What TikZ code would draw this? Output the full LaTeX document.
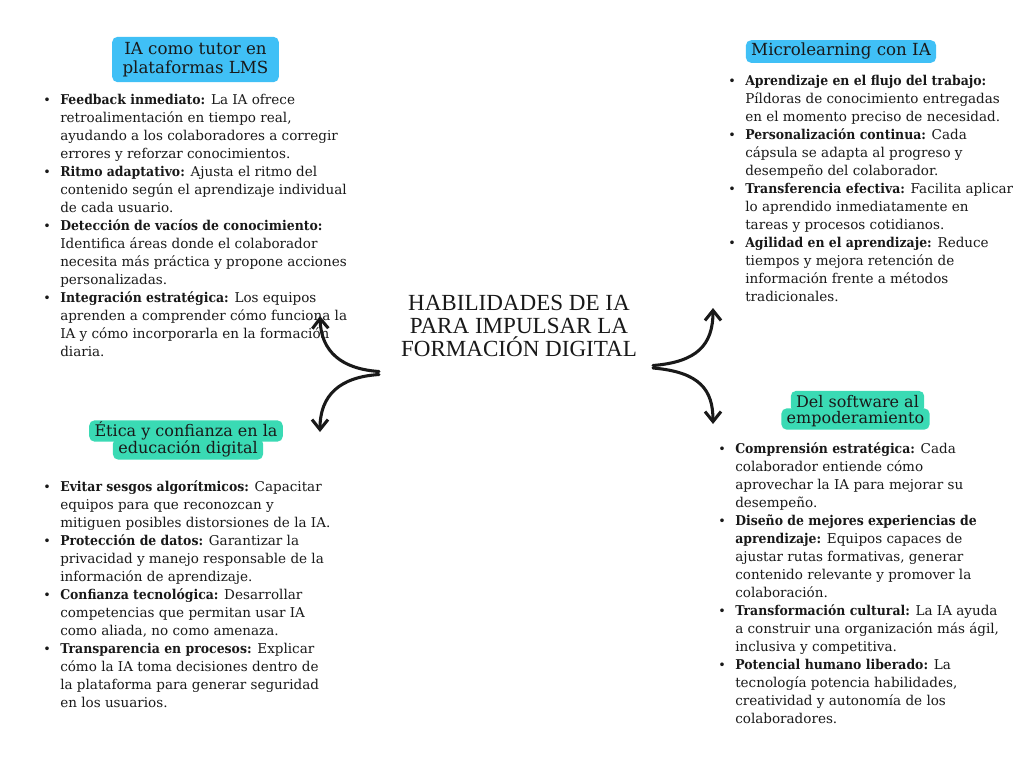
\documentclass[tikz,border=0pt]{standalone}
\usepackage{fontspec}
\setmainfont{DejaVu Serif}[BoldFeatures={FakeStretch=0.92}]
\newfontfamily\titlefont{Liberation Serif}
\usetikzlibrary{arrows.meta}
\definecolor{skyblue}{RGB}{64,192,246}
\definecolor{mint}{RGB}{58,218,180}
\definecolor{ink}{RGB}{25,25,25}
\newcommand{\bt}{{\fontsize{9.5}{9}\selectfont\textbullet}}
\tikzset{
  bluehead/.style={fill=skyblue, rounded corners=4pt, inner xsep=4pt, inner ysep=2pt, align=center, text=ink, font=\fontsize{12.5}{14.25}\selectfont},
  greenbox/.style={fill=mint, rounded corners=4pt, inner xsep=4pt, inner ysep=0pt, minimum height=16pt, text opacity=0, font=\fontsize{12}{14}\selectfont},
  greentext/.style={inner sep=0pt, text=ink, font=\fontsize{12}{14}\selectfont},
  itemlist/.style={anchor=base west, inner sep=0pt, text=ink, font=\fontsize{10.15}{13.5}\selectfont},
  titletext/.style={align=center, text=ink, font=\titlefont\fontsize{17.3}{17}\selectfont},
  curvy/.style={line width=2.3pt, line cap=round, draw=ink, -{Straight Barb[length=7.5pt,width=12pt,line width=2.3pt]}}
}
\begin{document}
\begin{tikzpicture}[x=0.75pt,y=-0.75pt]
\useasboundingbox (0,0) rectangle (1024,768);
\fill[white] (0,0) rectangle (1024,768);

% title
\node[titletext] (title) at (519,326) {HABILIDADES DE IA\\PARA IMPULSAR LA\\FORMACIÓN DIGITAL};

% headers
\node[bluehead, minimum width=125pt, minimum height=34pt] (h1) at (195.5,59.5) {IA como tutor en\\plataformas LMS};
\node[bluehead, minimum width=142pt, minimum height=17pt] (h2) at (841,51.5) {Microlearning con IA};
\node[greenbox] (h3a) at (186,431) {Ética y confianza en la};
\node[greenbox] (h3b) at (188,449) {educación digital};
\node[greenbox] (h4a) at (857.5,401.5) {Del software al};
\node[greenbox] (h4b) at (855.5,419) {empoderamiento};
\node[greentext] (t3a) at (h3a) {Ética y confianza en la};
\node[greentext] (t3b) at (h3b) {educación digital};
\node[greentext] (t4a) at (h4a) {Del software al};
\node[greentext] (t4b) at (h4b) {empoderamiento};

% lists
\node[itemlist] (l1) at (43,104) {\begin{tabular}[t]{@{}p{12.75pt}@{}l@{}}
\bt & \textbf{Feedback inmediato:} La IA ofrece\\
& retroalimentación en tiempo real,\\
& ayudando a los colaboradores a corregir\\
& errores y reforzar conocimientos.\\
\bt & \textbf{Ritmo adaptativo:} Ajusta el ritmo del\\
& contenido según el aprendizaje individual\\
& de cada usuario.\\
\bt & \textbf{Detección de vacíos de conocimiento:}\\
& Identifica áreas donde el colaborador\\
& necesita más práctica y propone acciones\\
& personalizadas.\\
\bt & \textbf{Integración estratégica:} Los equipos\\
& aprenden a comprender cómo funciona la\\
& IA y cómo incorporarla en la formación\\
& diaria.
\end{tabular}};

\node[itemlist] (l2) at (728,85) {\begin{tabular}[t]{@{}p{12.75pt}@{}l@{}}
\bt & \textbf{Aprendizaje en el flujo del trabajo:}\\
& Píldoras de conocimiento entregadas\\
& en el momento preciso de necesidad.\\
\bt & \textbf{Personalización continua:} Cada\\
& cápsula se adapta al progreso y\\
& desempeño del colaborador.\\
\bt & \textbf{Transferencia efectiva:} Facilita aplicar\\
& lo aprendido inmediatamente en\\
& tareas y procesos cotidianos.\\
\bt & \textbf{Agilidad en el aprendizaje:} Reduce\\
& tiempos y mejora retención de\\
& información frente a métodos\\
& tradicionales.
\end{tabular}};

\node[itemlist] (l3) at (43,491) {\begin{tabular}[t]{@{}p{12.75pt}@{}l@{}}
\bt & \textbf{Evitar sesgos algorítmicos:} Capacitar\\
& equipos para que reconozcan y\\
& mitiguen posibles distorsiones de la IA.\\
\bt & \textbf{Protección de datos:} Garantizar la\\
& privacidad y manejo responsable de la\\
& información de aprendizaje.\\
\bt & \textbf{Confianza tecnológica:} Desarrollar\\
& competencias que permitan usar IA\\
& como aliada, no como amenaza.\\
\bt & \textbf{Transparencia en procesos:} Explicar\\
& cómo la IA toma decisiones dentro de\\
& la plataforma para generar seguridad\\
& en los usuarios.
\end{tabular}};

\node[itemlist] (l4) at (718,453) {\begin{tabular}[t]{@{}p{12.75pt}@{}l@{}}
\bt & \textbf{Comprensión estratégica:} Cada\\
& colaborador entiende cómo\\
& aprovechar la IA para mejorar su\\
& desempeño.\\
\bt & \textbf{Diseño de mejores experiencias de}\\
& \textbf{aprendizaje:} Equipos capaces de\\
& ajustar rutas formativas, generar\\
& contenido relevante y promover la\\
& colaboración.\\
\bt & \textbf{Transformación cultural:} La IA ayuda\\
& a construir una organización más ágil,\\
& inclusiva y competitiva.\\
\bt & \textbf{Potencial humano liberado:} La\\
& tecnología potencia habilidades,\\
& creatividad y autonomía de los\\
& colaboradores.
\end{tabular}};

% arrows
\coordinate (ls1) at (379,371.5);
\coordinate (ls2) at (379,374.5);
\coordinate (rs1) at (653,365.5);
\coordinate (rs2) at (653,368);
\coordinate (lt1) at (320,316);
\coordinate (lt2) at (320,432);
\coordinate (rt1) at (713,308);
\coordinate (rt2) at (713,424);
\draw[curvy] (ls1) .. controls (342,369) and (321,352) .. (lt1);
\draw[curvy] (ls2) .. controls (340,377) and (320,395) .. (lt2);
\draw[curvy] (rs1) .. controls (697,362) and (713,345) .. (rt1);
\draw[curvy] (rs2) .. controls (700,372) and (713,390) .. (rt2);
\end{tikzpicture}
\end{document}
